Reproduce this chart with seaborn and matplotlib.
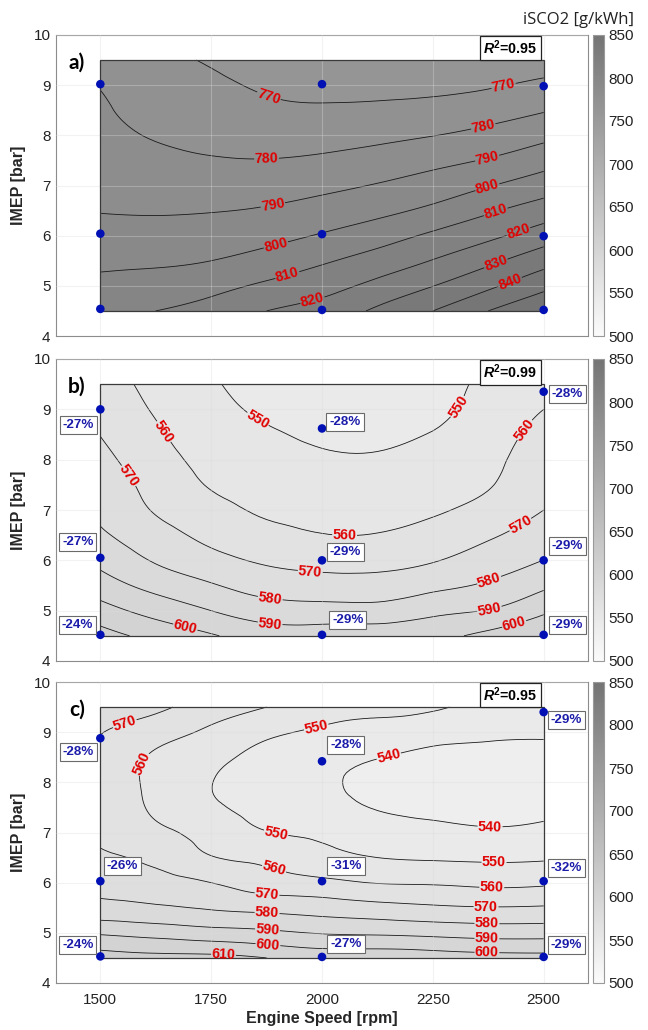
import numpy as np
import pandas as pd
import matplotlib
matplotlib.use("Agg")
import matplotlib.pyplot as plt
from matplotlib.colors import LinearSegmentedColormap, Normalize
from matplotlib.cm import ScalarMappable
from matplotlib.patches import Rectangle
from matplotlib.tri import Triangulation, UniformTriRefiner, CubicTriInterpolator
import seaborn as sns

# ---------------------------------------------------------------------------
# Response-surface grids of indicated specific CO2 (g/kWh)
# rows: IMEP 4.5 -> 9.5 bar, columns: engine speed 1500 -> 2500 rpm
# ---------------------------------------------------------------------------
speed_rpm = [1500, 1625, 1750, 1875, 2000, 2125, 2250, 2375, 2500]
imep_bar = [4.5, 5.0, 5.5, 6.0, 6.5, 7.0, 7.5, 8.0, 8.5, 9.0, 9.5]

isco2_a = [
    [807.0, 810.0, 813.9, 820.0, 824.0, 831.8, 840.0, 850.0, 858.5],
    [803.0, 804.1, 806.9, 811.7, 816.4, 822.7, 829.8, 838.1, 847.4],
    [797.7, 798.5, 800.0, 803.8, 808.7, 814.2, 820.4, 827.8, 836.1],
    [793.5, 793.7, 794.7, 797.0, 800.8, 805.6, 811.7, 817.8, 825.2],
    [789.7, 789.2, 789.6, 791.0, 794.0, 797.5, 802.3, 808.7, 814.8],
    [787.7, 785.8, 785.1, 785.6, 787.6, 790.6, 794.4, 799.5, 805.2],
    [785.7, 782.4, 780.7, 780.3, 781.6, 783.9, 787.1, 790.8, 796.1],
    [783.7, 779.2, 777.6, 776.3, 776.2, 777.8, 779.8, 782.9, 787.4],
    [781.6, 776.4, 774.8, 772.4, 771.5, 772.2, 773.5, 775.7, 779.3],
    [779.5, 774.5, 771.9, 768.4, 766.5, 766.7, 767.3, 769.1, 771.9],
    [776.0, 772.0, 769.1, 765.0, 763.0, 763.5, 764.0, 765.0, 766.0],
]

isco2_b = [
    [614.0, 607.0, 601.0, 595.2, 595.2, 596.0, 597.0, 603.0, 609.0],
    [603.9, 596.4, 590.0, 584.8, 583.9, 583.8, 587.6, 590.5, 598.3],
    [594.7, 586.8, 580.9, 575.8, 574.0, 573.9, 577.3, 581.4, 588.1],
    [587.4, 579.1, 573.1, 568.6, 566.6, 566.7, 569.4, 574.5, 580.1],
    [581.5, 573.8, 567.4, 562.8, 560.3, 560.4, 563.6, 568.7, 575.1],
    [578.0, 569.2, 563.0, 558.7, 557.3, 557.2, 558.9, 563.2, 570.0],
    [575.3, 566.7, 559.3, 556.2, 554.3, 554.1, 556.2, 559.4, 567.5],
    [572.6, 564.1, 556.9, 553.6, 551.3, 550.9, 553.4, 557.8, 565.0],
    [569.8, 561.5, 554.5, 551.1, 548.5, 548.2, 550.5, 556.2, 562.5],
    [567.4, 559.0, 552.6, 548.4, 546.0, 545.8, 547.2, 554.6, 560.0],
    [565.0, 557.0, 551.0, 546.0, 543.5, 543.5, 545.0, 553.0, 557.5],
]

isco2_c = [
    [614.4, 613.0, 613.0, 610.0, 607.0, 607.0, 605.5, 604.0, 603.5],
    [598.7, 596.3, 593.9, 592.0, 589.4, 588.5, 587.3, 586.0, 586.0],
    [583.3, 581.4, 579.1, 577.1, 575.4, 573.3, 571.5, 570.5, 571.0],
    [576.3, 573.6, 570.0, 565.0, 562.4, 559.6, 559.0, 557.8, 558.4],
    [571.5, 567.4, 560.5, 557.5, 553.1, 550.0, 549.0, 548.4, 548.9],
    [568.3, 562.1, 556.5, 550.4, 548.0, 544.5, 542.6, 541.3, 542.4],
    [567.3, 558.5, 551.8, 546.0, 543.0, 539.5, 537.5, 536.5, 537.5],
    [567.1, 557.5, 550.2, 545.0, 541.2, 538.0, 535.5, 535.0, 535.5],
    [568.2, 558.5, 552.5, 547.0, 543.0, 540.3, 538.0, 537.5, 537.8],
    [570.3, 564.6, 558.0, 552.0, 548.5, 546.5, 543.5, 541.5, 540.9],
    [574.0, 572.0, 565.0, 560.0, 554.0, 552.0, 551.5, 546.0, 545.0],
]

# measured operating points
point_speed = [1500, 2000, 2500, 1500, 2000, 2500, 1500, 2000, 2500]
point_imep_a = [9.02, 9.02, 8.98, 6.04, 6.03, 5.99, 4.54, 4.52, 4.52]
point_imep_b = [9.00, 8.62, 9.35, 6.05, 6.00, 6.00, 4.52, 4.52, 4.52]
point_imep_c = [8.88, 8.42, 9.40, 6.03, 6.03, 6.03, 4.53, 4.52, 4.52]

# CO2 change relative to the baseline at each operating point
change_b = ["-27%", "-28%", "-28%", "-27%", "-29%", "-29%", "-24%", "-29%", "-29%"]
change_c = ["-28%", "-28%", "-29%", "-26%", "-31%", "-32%", "-24%", "-27%", "-29%"]

r_squared = ["0.95", "0.99", "0.95"]
panel_tags = ["a)", "b)", "c)"]

# where the percentage boxes sit (speed, IMEP)
change_pos_b = [(1450, 8.69), (2052, 8.74), (2553, 9.30), (1449, 6.37), (2053, 6.16),
                (2553, 6.28), (1448, 4.72), (2058, 4.82), (2554, 4.72)]
change_pos_c = [(1450, 8.61), (2054, 8.74), (2551, 9.25), (1550, 6.34), (2054, 6.33),
                (2551, 6.30), (1449, 4.76), (2054, 4.78), (2551, 4.75)]

# contour label anchor points (speed, IMEP)
label_pos_a = [(1880, 8.78), (2410, 8.97), (1875, 7.53), (2364, 8.17), (1889, 6.62),
               (2373, 7.53), (1896, 5.81), (2373, 6.97), (1922, 5.21), (2392, 6.47),
               (1978, 4.73), (2443, 6.08), (2392, 5.45), (2424, 5.09)]
label_pos_b = [(1855, 8.80), (2298, 9.10), (1640, 8.54), (2051, 6.53), (2471, 8.50),
               (1547, 7.57), (1973, 5.73), (2452, 6.64), (1883, 5.23), (2378, 5.58),
               (1883, 4.75), (2378, 5.02), (1691, 4.65), (2434, 4.72)]
label_pos_c = [(1554, 9.20), (1582, 8.41), (1987, 9.10), (2151, 8.51), (2379, 7.08),
               (1894, 6.88), (2388, 6.39), (1890, 6.22), (2383, 5.90), (1876, 5.77),
               (2370, 5.52), (1876, 5.39), (2372, 5.18), (1877, 5.06), (2372, 4.88),
               (1878, 4.76), (2372, 4.61), (1778, 4.58)]

# ---------------------------------------------------------------------------
sns.set_theme(style="white")
plt.rcParams["font.family"] = ["Liberation Sans", "DejaVu Sans"]
plt.rcParams["mathtext.fontset"] = "custom"
plt.rcParams["mathtext.rm"] = "Liberation Sans"
plt.rcParams["mathtext.it"] = "Liberation Sans:italic"
plt.rcParams["mathtext.bf"] = "Liberation Sans:bold"
plt.rcParams["mathtext.bfit"] = "Liberation Sans:italic:bold"

gray_map = LinearSegmentedColormap.from_list("isco2_gray", ["#fbfbfb", "#747474"])
norm = Normalize(vmin=500, vmax=850)
levels = np.arange(500, 870, 10)

fig = plt.figure(figsize=(6.48, 10.30), dpi=100)
W, H = 648.0, 1030.0
ax_left, ax_right = 56, 588
panel_rows = [(35, 336), (359, 661), (682, 983)]
cbar_x0, cbar_x1 = 593, 604

grids = [isco2_a, isco2_b, isco2_c]
pts = [point_imep_a, point_imep_b, point_imep_c]
changes = [None, (change_b, change_pos_b), (change_c, change_pos_c)]
label_positions = [label_pos_a, label_pos_b, label_pos_c]

# triangulated grid (in unit coordinates) so the surface can be smoothed by
# matplotlib's cubic tri-interpolator before contouring
nx, ny = len(speed_rpm), len(imep_bar)
sp = np.asarray(speed_rpm, float)
im = np.asarray(imep_bar, float)
U, V = np.meshgrid((sp - sp.min()) / np.ptp(sp), (im - im.min()) / np.ptp(im))
cells = []
for r in range(ny - 1):
    for c in range(nx - 1):
        k = r * nx + c
        cells.append([k, k + 1, k + nx + 1])
        cells.append([k, k + nx + 1, k + nx])
tri_unit = Triangulation(U.ravel(), V.ravel(), triangles=np.array(cells))
refiner = UniformTriRefiner(tri_unit)

tick_col = "#8c8c8c"

for i, (top, bot) in enumerate(panel_rows):
    ax = fig.add_axes([ax_left / W, 1 - bot / H, (ax_right - ax_left) / W, (bot - top) / H])
    Z = np.array(grids[i]).ravel()

    interp = CubicTriInterpolator(tri_unit, Z, kind="min_E")
    tri_fine, z_fine = refiner.refine_field(Z, triinterpolator=interp, subdiv=3)
    tri_data = Triangulation(sp.min() + tri_fine.x * np.ptp(sp),
                             im.min() + tri_fine.y * np.ptp(im),
                             triangles=tri_fine.triangles)

    ax.tricontourf(tri_data, z_fine, levels=levels, cmap=gray_map, norm=norm, zorder=1)
    cs = ax.tricontour(tri_data, z_fine, levels=levels, colors="#1a1a1a",
                       linewidths=0.6, zorder=2)
    with plt.rc_context({"font.weight": "bold"}):
        labels = ax.clabel(cs, fmt="%d", fontsize=10.3, colors="#e00000", inline=True,
                           inline_spacing=3, manual=label_positions[i])
    for t in labels:
        t.set_fontweight("bold")

    # outline of the fitted region
    ax.add_patch(Rectangle((sp.min(), im.min()), np.ptp(sp), np.ptp(im),
                           fill=False, edgecolor="#3a3a3a", linewidth=0.9, zorder=3))

    df = pd.DataFrame({"speed": point_speed, "imep": pts[i]})
    sns.scatterplot(data=df, x="speed", y="imep", ax=ax, color="#0010b4", s=38,
                    edgecolor="none", zorder=6, legend=False)

    if changes[i] is not None:
        texts, positions = changes[i]
        for txt, (px, py) in zip(texts, positions):
            ax.text(px, py, txt, ha="center", va="center", fontsize=9.6,
                    fontweight="bold", color="#1c1caa", zorder=7,
                    bbox=dict(boxstyle="square,pad=0.22", facecolor="white",
                              edgecolor="#6a6a6a", linewidth=0.8))

    ax.text(2425, 9.74, r"$\mathbfit{R}^{\mathbf{2}}$=" + r_squared[i], ha="center",
            va="center", fontsize=10.3, fontweight="bold", color="black", zorder=7,
            bbox=dict(boxstyle="square,pad=0.22", facecolor="white",
                      edgecolor="#222222", linewidth=0.9))
    ax.text(1447, 9.45, panel_tags[i], ha="center", va="center", fontsize=15,
            fontweight="bold", family=["Lato", "DejaVu Sans"], color="black", zorder=7)

    ax.set_xlim(1400, 2600)
    ax.set_ylim(4, 10)
    ax.set_xticks([1500, 1750, 2000, 2250, 2500])
    ax.set_yticks([4, 5, 6, 7, 8, 9, 10])
    ax.set_axisbelow(False)
    ax.grid(True, color="#dcdcdc", linewidth=0.8, alpha=0.35)
    for s in ax.spines.values():
        s.set_color(tick_col)
        s.set_linewidth(0.8)
    ax.tick_params(direction="in", length=3, width=0.6, color=tick_col,
                   labelsize=11, labelcolor="#222222", pad=4)
    ax.tick_params(axis="x", pad=7)
    ax.set_ylabel("IMEP [bar]", fontsize=11.5, fontweight="bold", labelpad=5)
    if i < 2:
        ax.set_xticklabels([])
        ax.set_xlabel("")
    else:
        ax.set_xlabel("Engine Speed [rpm]", fontsize=11.5, fontweight="bold", labelpad=3)

    cax = fig.add_axes([cbar_x0 / W, 1 - bot / H, (cbar_x1 - cbar_x0) / W, (bot - top) / H])
    cb = fig.colorbar(ScalarMappable(norm=norm, cmap=gray_map), cax=cax)
    cb.set_ticks(np.arange(500, 851, 50))
    cb.outline.set_edgecolor("#9a9a9a")
    cb.outline.set_linewidth(0.8)
    cax.tick_params(direction="in", length=2, width=0.5, color="#9a9a9a",
                    labelsize=11, labelcolor="#222222", pad=3)

fig.text(634 / W, 1 - 20 / H, "iSCO2 [g/kWh]", ha="right", va="center",
         fontsize=12, family=["Open Sans", "DejaVu Sans"], color="#222222")

fig.savefig("out.png", dpi=100)
